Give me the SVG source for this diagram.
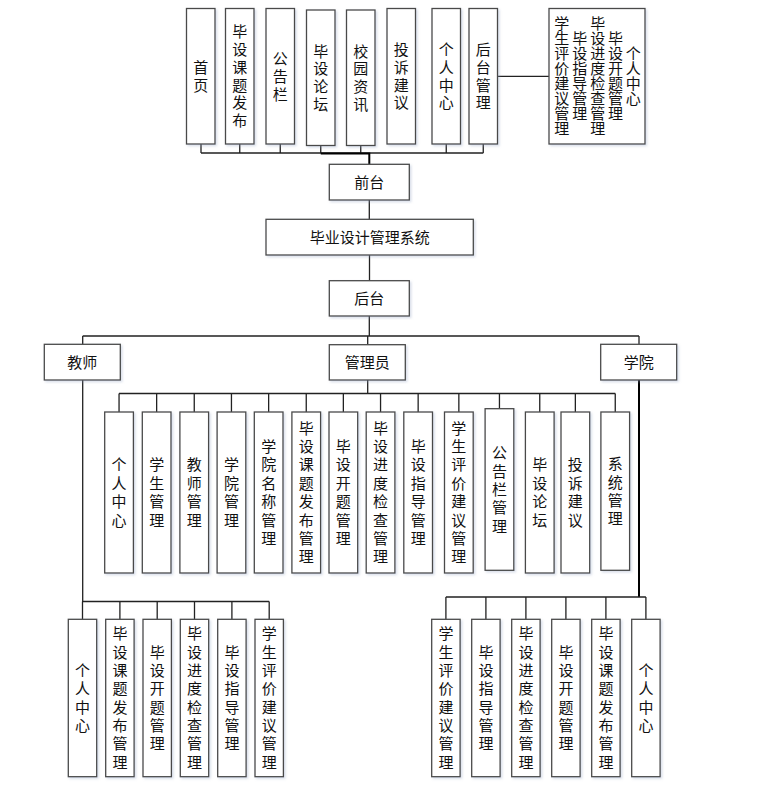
<svg xmlns="http://www.w3.org/2000/svg" width="779" height="795" viewBox="0 0 779 795">
<style>
.b{fill:#fff;stroke:#4a4a4a;stroke-width:1.3;filter:url(#sh)}
.t{font-family:"Noto Sans CJK SC","Noto Sans",sans-serif;font-size:15px;fill:#111;text-anchor:middle}
.c{fill:none;stroke:#222;stroke-width:1.3}
.k{fill:none;stroke:#000;stroke-width:2}
</style>
<defs>
<filter id="sh" x="-30%" y="-10%" width="160%" height="120%">
<feDropShadow dx="1.5" dy="1.5" stdDeviation="1.2" flood-color="#8fa0c0" flood-opacity="0.35"/>
</filter>
</defs>
<rect width="779" height="795" fill="#fff"/>
<g id="connectors">
<path class="c" d="M201 144V153M239.75 144V153M280.25 144V153M320.75 145.5V153M360.75 145.5V153M446.25 144V153M483.25 144V153M201 153H483.3"/>
<path class="k" d="M320.75 153.5H369.3V164.3"/>
<path class="c" d="M497.5 76.3H549"/>
<path class="c" d="M369.3 200V219.3M369.5 255V280.7M369.3 316V336M82.7 336H639M82.7 336V344.3M367.7 336V344.7M639 336V344.3"/>
<path class="c" d="M367.7 380V393.5M119 393.5H615.3"/>
<path class="c" d="M119.05 393.5V412M156.65 393.5V412M194.25 393.5V412M231.45 393.5V412M268.65 393.5V412M306.25 393.5V412M343.35 393.5V412M380.55 393.5V412M418.15 393.5V412M458.85 393.5V412M499.45 393.5V408.7M539.75 393.5V412M575.35 393.5V412M615.25 393.5V412"/>
<path class="c" d="M82.7 380V601.5H269.2M82.5 601.5V619.3M119.9 601.5V619.3M157.2 601.5V619.3M194.5 601.5V619.3M231.9 601.5V619.3M269.2 601.5V619.3"/>
<path class="k" d="M639 380V597"/>
<path class="c" d="M445.9 597H645.9M445.9 597V619.3M485.9 597V619.3M525.9 597V619.3M565.9 597V619.3M605.9 597V619.3M645.9 597V619.3"/>
</g>
<g id="top-shouye"><rect class="b" x="186.5" y="8.5" width="28.5" height="135.5"/><text class="t" x="200.75 200.75" y="72.85" dy="0 17.8">首页</text></g>
<g id="top-ketifabu"><rect class="b" x="225.5" y="8.5" width="28.5" height="135.5"/><text class="t" x="239.75 239.75 239.75 239.75 239.75 239.75" y="37.25" dy="0 17.8 17.8 17.8 17.8 17.8">毕设课题发布</text></g>
<g id="top-gonggaolan"><rect class="b" x="266" y="8.5" width="28.5" height="135.5"/><text class="t" x="280.25 280.25 280.25" y="63.95" dy="0 17.8 17.8">公告栏</text></g>
<g id="top-luntan"><rect class="b" x="306.5" y="10" width="28.5" height="135.5"/><text class="t" x="320.75 320.75 320.75 320.75" y="56.55" dy="0 17.8 17.8 17.8">毕设论坛</text></g>
<g id="top-zixun"><rect class="b" x="346.5" y="10" width="28.5" height="135.5"/><text class="t" x="360.75 360.75 360.75 360.75" y="56.55" dy="0 17.8 17.8 17.8">校园资讯</text></g>
<g id="top-tousu"><rect class="b" x="387" y="8.5" width="28.5" height="135.5"/><text class="t" x="401.25 401.25 401.25 401.25" y="55.05" dy="0 17.8 17.8 17.8">投诉建议</text></g>
<g id="top-geren"><rect class="b" x="432" y="8.5" width="28.5" height="135.5"/><text class="t" x="446.25 446.25 446.25 446.25" y="55.05" dy="0 17.8 17.8 17.8">个人中心</text></g>
<g id="top-houtai"><rect class="b" x="469" y="8.5" width="28.5" height="135.5"/><text class="t" x="483.25 483.25 483.25 483.25" y="55.05" dy="0 17.8 17.8 17.8">后台管理</text></g>
<g id="top-houtai-list"><rect class="b" x="549" y="8.5" width="96" height="135.5"/>
<text class="t" x="561.7 561.7 561.7 561.7 561.7 561.7 561.7 561.7" y="29.25" dy="0 15 15 15 15 15 15 15">学生评价建议管理</text>
<text class="t" x="579.7 579.7 579.7 579.7 579.7 579.7" y="44.25" dy="0 15 15 15 15 15">毕设指导管理</text>
<text class="t" x="597.7 597.7 597.7 597.7 597.7 597.7 597.7 597.7" y="29.25" dy="0 15 15 15 15 15 15 15">毕设进度检查管理</text>
<text class="t" x="615.5 615.5 615.5 615.5 615.5 615.5" y="44.25" dy="0 15 15 15 15 15">毕设开题管理</text>
<text class="t" x="633.3 633.3 633.3 633.3" y="59.25" dy="0 15 15 15">个人中心</text>
</g>
<g id="qiantai"><rect class="b" x="329.3" y="164.3" width="80" height="35.7"/><text class="t" x="369.3" y="187.7">前台</text></g>
<g id="system"><rect class="b" x="266" y="219.3" width="207.3" height="35.7"/><text class="t" x="369.7" y="242.7">毕业设计管理系统</text></g>
<g id="houtai"><rect class="b" x="329.3" y="280.7" width="80" height="35.3"/><text class="t" x="369.3" y="303.9">后台</text></g>
<g id="jiaoshi"><rect class="b" x="44.3" y="344.3" width="76" height="35.7"/><text class="t" x="82.3" y="367.7">教师</text></g>
<g id="guanliyuan"><rect class="b" x="329.3" y="344.7" width="76" height="35.3"/><text class="t" x="367.3" y="367.9">管理员</text></g>
<g id="xueyuan"><rect class="b" x="600.7" y="344.3" width="76" height="35.7"/><text class="t" x="638.7" y="367.7">学院</text></g>
<g id="a1"><rect class="b" x="104.7" y="412" width="28.7" height="161"/><text class="t" x="119.05 119.05 119.05 119.05" y="470.4" dy="0 18.4 18.4 18.4">个人中心</text></g>
<g id="a2"><rect class="b" x="142.3" y="412" width="28.7" height="161"/><text class="t" x="156.65 156.65 156.65 156.65" y="470.4" dy="0 18.4 18.4 18.4">学生管理</text></g>
<g id="a3"><rect class="b" x="179.9" y="412" width="28.7" height="161"/><text class="t" x="194.25 194.25 194.25 194.25" y="470.4" dy="0 18.4 18.4 18.4">教师管理</text></g>
<g id="a4"><rect class="b" x="217.1" y="412" width="28.7" height="161"/><text class="t" x="231.45 231.45 231.45 231.45" y="470.4" dy="0 18.4 18.4 18.4">学院管理</text></g>
<g id="a5"><rect class="b" x="254.3" y="412" width="28.7" height="161"/><text class="t" x="268.65 268.65 268.65 268.65 268.65 268.65" y="452" dy="0 18.4 18.4 18.4 18.4 18.4">学院名称管理</text></g>
<g id="a6"><rect class="b" x="291.9" y="412" width="28.7" height="161"/><text class="t" x="306.25 306.25 306.25 306.25 306.25 306.25 306.25 306.25" y="433.6" dy="0 18.4 18.4 18.4 18.4 18.4 18.4 18.4">毕设课题发布管理</text></g>
<g id="a7"><rect class="b" x="329" y="412" width="28.7" height="161"/><text class="t" x="343.35 343.35 343.35 343.35 343.35 343.35" y="452" dy="0 18.4 18.4 18.4 18.4 18.4">毕设开题管理</text></g>
<g id="a8"><rect class="b" x="366.2" y="412" width="28.7" height="161"/><text class="t" x="380.55 380.55 380.55 380.55 380.55 380.55 380.55 380.55" y="433.6" dy="0 18.4 18.4 18.4 18.4 18.4 18.4 18.4">毕设进度检查管理</text></g>
<g id="a9"><rect class="b" x="403.8" y="412" width="28.7" height="161"/><text class="t" x="418.15 418.15 418.15 418.15 418.15 418.15" y="452" dy="0 18.4 18.4 18.4 18.4 18.4">毕设指导管理</text></g>
<g id="a10"><rect class="b" x="444.5" y="412" width="28.7" height="161"/><text class="t" x="458.85 458.85 458.85 458.85 458.85 458.85 458.85 458.85" y="433.6" dy="0 18.4 18.4 18.4 18.4 18.4 18.4 18.4">学生评价建议管理</text></g>
<g id="a11"><rect class="b" x="485.1" y="408.7" width="28.7" height="161.6"/><text class="t" x="499.45 499.45 499.45 499.45 499.45" y="458.2" dy="0 18.4 18.4 18.4 18.4">公告栏管理</text></g>
<g id="a12"><rect class="b" x="525.4" y="412" width="28.7" height="161"/><text class="t" x="539.75 539.75 539.75 539.75" y="470.4" dy="0 18.4 18.4 18.4">毕设论坛</text></g>
<g id="a13"><rect class="b" x="561" y="412" width="28.7" height="161"/><text class="t" x="575.35 575.35 575.35 575.35" y="470.4" dy="0 18.4 18.4 18.4">投诉建议</text></g>
<g id="a14"><rect class="b" x="600.9" y="412" width="28.7" height="158.3"/><text class="t" x="615.25 615.25 615.25 615.25" y="469.1" dy="0 18.4 18.4 18.4">系统管理</text></g>
<g id="t1"><rect class="b" x="68.3" y="619.3" width="28.4" height="157.4"/><text class="t" x="82.5 82.5 82.5 82.5" y="676" dy="0 18.33 18.33 18.33">个人中心</text></g>
<g id="t2"><rect class="b" x="105.7" y="619.3" width="28.4" height="157.4"/><text class="t" x="119.9 119.9 119.9 119.9 119.9 119.9 119.9 119.9" y="639.3" dy="0 18.33 18.33 18.33 18.33 18.33 18.33 18.33">毕设课题发布管理</text></g>
<g id="t3"><rect class="b" x="143" y="619.3" width="28.4" height="157.4"/><text class="t" x="157.2 157.2 157.2 157.2 157.2 157.2" y="657.7" dy="0 18.33 18.33 18.33 18.33 18.33">毕设开题管理</text></g>
<g id="t4"><rect class="b" x="180.3" y="619.3" width="28.4" height="157.4"/><text class="t" x="194.5 194.5 194.5 194.5 194.5 194.5 194.5 194.5" y="639.3" dy="0 18.33 18.33 18.33 18.33 18.33 18.33 18.33">毕设进度检查管理</text></g>
<g id="t5"><rect class="b" x="217.7" y="619.3" width="28.4" height="157.4"/><text class="t" x="231.9 231.9 231.9 231.9 231.9 231.9" y="657.7" dy="0 18.33 18.33 18.33 18.33 18.33">毕设指导管理</text></g>
<g id="t6"><rect class="b" x="255" y="619.3" width="28.4" height="157.4"/><text class="t" x="269.2 269.2 269.2 269.2 269.2 269.2 269.2 269.2" y="639.3" dy="0 18.33 18.33 18.33 18.33 18.33 18.33 18.33">学生评价建议管理</text></g>
<g id="x1"><rect class="b" x="431.7" y="619.3" width="28.4" height="157.4"/><text class="t" x="445.9 445.9 445.9 445.9 445.9 445.9 445.9 445.9" y="639.3" dy="0 18.33 18.33 18.33 18.33 18.33 18.33 18.33">学生评价建议管理</text></g>
<g id="x2"><rect class="b" x="471.7" y="619.3" width="28.4" height="157.4"/><text class="t" x="485.9 485.9 485.9 485.9 485.9 485.9" y="657.7" dy="0 18.33 18.33 18.33 18.33 18.33">毕设指导管理</text></g>
<g id="x3"><rect class="b" x="511.7" y="619.3" width="28.4" height="157.4"/><text class="t" x="525.9 525.9 525.9 525.9 525.9 525.9 525.9 525.9" y="639.3" dy="0 18.33 18.33 18.33 18.33 18.33 18.33 18.33">毕设进度检查管理</text></g>
<g id="x4"><rect class="b" x="551.7" y="619.3" width="28.4" height="157.4"/><text class="t" x="565.9 565.9 565.9 565.9 565.9 565.9" y="657.7" dy="0 18.33 18.33 18.33 18.33 18.33">毕设开题管理</text></g>
<g id="x5"><rect class="b" x="591.7" y="619.3" width="28.4" height="157.4"/><text class="t" x="605.9 605.9 605.9 605.9 605.9 605.9 605.9 605.9" y="639.3" dy="0 18.33 18.33 18.33 18.33 18.33 18.33 18.33">毕设课题发布管理</text></g>
<g id="x6"><rect class="b" x="631.7" y="619.3" width="28.4" height="157.4"/><text class="t" x="645.9 645.9 645.9 645.9" y="676" dy="0 18.33 18.33 18.33">个人中心</text></g>
</svg>
